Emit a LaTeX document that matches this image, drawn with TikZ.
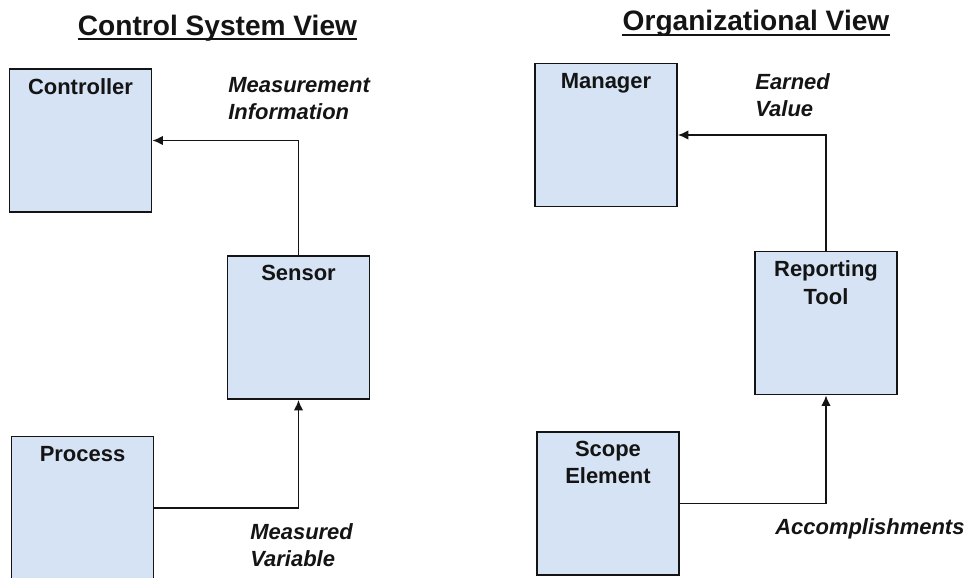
\documentclass[tikz,border=0pt]{standalone}
\usepackage{fontspec}
\setmainfont{Liberation Sans}
\usepackage{tikz}
\usetikzlibrary{arrows.meta,positioning}
\definecolor{ViewBlue}{HTML}{D5E3F4}
\definecolor{ViewInk}{HTML}{141414}
\tikzset{
  viewtitle/.style={font=\fontsize{16}{19}\selectfont\bfseries, text=ViewInk, inner sep=0pt},
  viewrule/.style={draw=ViewInk, line width=1.1pt},
  viewbox/.style={draw=ViewInk, line width=1.1pt, fill=ViewBlue, minimum width=2.84cm, minimum height=2.86cm, inner sep=0pt},
  viewtext/.style={font=\fontsize{12.5}{15.5}\selectfont\bfseries, text=ViewInk, align=center, inner sep=0pt},
  flowlabel/.style={font=\fontsize{12.5}{15.5}\selectfont\bfseries\itshape, text=ViewInk, align=left, inner sep=0pt, anchor=north west},
  viewarrow/.style={-{Latex[length=6pt,width=5.5pt]}, draw=ViewInk, line width=0.9pt}
}
\begin{document}
\begin{tikzpicture}[x=0.02cm, y=-0.02cm, node distance=0.2cm]
\useasboundingbox (0,0) rectangle (965,578);
% control system view
\node[viewtitle, anchor=base] (cstitle) at (217.5,35) {Control System View};
\draw[viewrule] ([yshift=-2.4pt]cstitle.base west) -- ([yshift=-2.4pt]cstitle.base east);
\node[viewbox] (ctrl) at (80.5,140.5) {};
\node[viewtext, below=of ctrl.north] (ctrltxt) {Controller};
\node[viewbox] (sensor) at (298.5,327.5) {};
\node[viewtext, below=of sensor.north] (sensortxt) {Sensor};
\node[viewbox] (process) at (82.5,508) {};
\node[viewtext, below=of process.north] (processtxt) {Process};
\node[flowlabel] (measinfo) at (228,77) {Measurement\\Information};
\node[flowlabel] (measvar) at (250,523) {Measured\\Variable};
\draw[viewarrow] (sensor.north) |- (ctrl.east);
\draw[viewarrow] (process.east) -| (sensor.south);
% organizational view
\node[viewtitle, anchor=base] (orgtitle) at (756,31) {Organizational View};
\draw[viewrule] ([yshift=-2.4pt]orgtitle.base west) -- ([yshift=-2.4pt]orgtitle.base east);
\node[viewbox] (mgr) at (606,135) {};
\node[viewtext, below=of mgr.north] (mgrtxt) {Manager};
\node[viewbox] (report) at (826,323) {};
\node[viewtext, below=of report.north] (reporttxt) {Reporting\\Tool};
\node[viewbox] (scope) at (608,503.5) {};
\node[viewtext, below=of scope.north] (scopetxt) {Scope\\Element};
\node[flowlabel] (earned) at (755,73) {Earned\\Value};
\node[flowlabel] (accomp) at (775,518) {Accomplishments};
\draw[viewarrow] (report.north) |- (mgr.east);
\draw[viewarrow] (scope.east) -| (report.south);
\end{tikzpicture}
\end{document}
